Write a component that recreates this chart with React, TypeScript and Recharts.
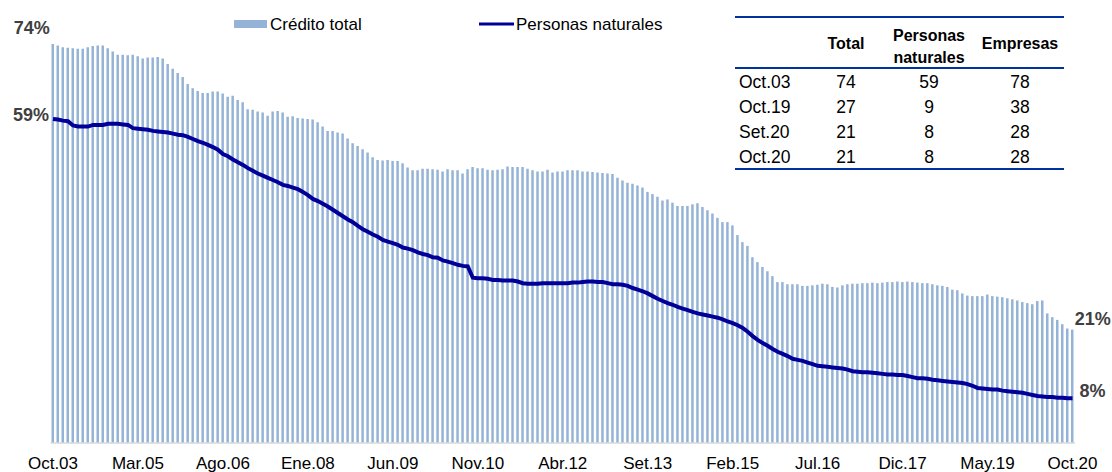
import { ComposedChart, Bar, Line, XAxis, YAxis, LabelList } from "recharts"

const FONT = '"Liberation Sans", Arial, Helvetica, sans-serif'

// crédito total (% del total), Oct.03 -> Oct.20, mensual
const creditoTotal = [
    73.9, 73.6, 73.3, 73.2, 73.1, 73.0, 73.0, 73.3, 73.5, 73.6, 73.6, 73.1,
    72.5, 71.9, 71.9, 71.8, 71.9, 71.6, 71.2, 71.4, 71.4, 71.5, 71.2, 70.2,
    69.3, 68.5, 67.8, 66.5, 65.7, 65.2, 64.8, 64.8, 65.1, 65.1, 64.7, 64.1,
    64.3, 63.5, 63.1, 61.8, 61.7, 61.4, 61.2, 60.6, 61.4, 61.5, 61.2, 60.4,
    60.5, 60.2, 60.1, 60.0, 59.9, 59.4, 58.6, 57.8, 57.8, 57.5, 57.3, 56.4,
    55.5, 55.0, 54.4, 53.8, 52.9, 52.4, 52.3, 52.4, 52.2, 52.2, 51.8, 51.0,
    50.5, 50.5, 50.8, 50.8, 50.7, 50.6, 50.3, 50.7, 50.5, 50.5, 49.9, 50.7,
    51.1, 50.9, 50.9, 50.6, 50.5, 50.6, 50.7, 51.2, 51.1, 51.1, 51.1, 50.8,
    50.5, 50.3, 50.3, 50.6, 50.1, 50.3, 50.3, 50.5, 50.5, 50.5, 50.3, 50.3,
    50.2, 50.1, 50.0, 49.9, 49.8, 49.1, 48.6, 48.2, 48.0, 47.7, 47.3, 46.5,
    46.1, 45.6, 44.9, 45.1, 44.5, 43.9, 43.9, 43.9, 44.2, 44.4, 43.7, 43.1,
    42.5, 41.7, 40.9, 40.9, 40.3, 38.5, 37.2, 36.5, 34.4, 33.5, 32.6, 31.8,
    30.9, 29.8, 29.8, 29.4, 29.4, 29.4, 29.1, 29.1, 29.2, 29.3, 29.5, 29.4,
    28.9, 28.8, 29.2, 29.4, 29.5, 29.5, 29.6, 29.6, 29.7, 29.6, 29.7, 29.8,
    29.8, 29.9, 29.8, 29.9, 29.8, 29.7, 29.6, 29.6, 29.4, 29.2, 29.1, 28.9,
    28.4, 28.3, 27.7, 27.3, 27.2, 27.2, 27.2, 27.5, 27.2, 27.1, 27.0, 26.8,
    26.6, 26.4, 26.1, 25.9, 25.7, 26.3, 26.4, 24.0, 23.3, 22.8, 22.0, 21.2,
    21.0,
]

const personasNaturales = [
    60.0, 59.9, 59.7, 59.6, 58.8, 58.6, 58.6, 58.6, 58.9, 58.9, 58.9, 59.1,
    59.1, 59.1, 59.0, 58.9, 58.3, 58.2, 58.1, 58.0, 57.8, 57.7, 57.6, 57.5,
    57.3, 57.1, 57.0, 56.7, 56.3, 55.9, 55.6, 55.2, 54.8, 54.3, 53.5, 53.1,
    52.5, 52.0, 51.5, 50.9, 50.4, 49.9, 49.5, 49.1, 48.7, 48.3, 47.8, 47.6,
    47.3, 47.0, 46.5, 45.9, 45.2, 44.8, 44.3, 43.8, 43.2, 42.6, 42.0, 41.4,
    40.9, 40.2, 39.6, 39.1, 38.6, 38.2, 37.6, 37.3, 37.0, 36.7, 36.2, 36.0,
    35.7, 35.3, 35.0, 34.8, 34.4, 34.3, 33.8, 33.6, 33.3, 33.0, 32.8, 32.7,
    30.6, 30.5, 30.5, 30.4, 30.2, 30.2, 30.1, 30.1, 30.1, 29.9, 29.6, 29.5,
    29.5, 29.5, 29.6, 29.6, 29.6, 29.6, 29.6, 29.6, 29.7, 29.7, 29.8, 29.9,
    29.9, 29.8, 29.8, 29.6, 29.4, 29.4, 29.3, 29.1, 28.7, 28.4, 28.1, 27.7,
    27.2, 26.7, 26.3, 25.9, 25.6, 25.2, 24.9, 24.6, 24.3, 24.0, 23.8, 23.6,
    23.4, 23.2, 22.9, 22.5, 22.2, 21.8, 21.3, 20.6, 19.8, 19.1, 18.5, 18.0,
    17.4, 16.9, 16.5, 16.1, 15.6, 15.4, 15.2, 14.9, 14.6, 14.3, 14.2, 14.1,
    14.0, 13.9, 13.8, 13.6, 13.3, 13.2, 13.1, 13.1, 13.0, 12.9, 12.8, 12.7,
    12.7, 12.6, 12.6, 12.4, 12.2, 12.0, 12.0, 11.9, 11.7, 11.6, 11.5, 11.4,
    11.3, 11.2, 11.1, 10.9, 10.6, 10.2, 10.1, 10.0, 9.9, 9.9, 9.7, 9.6,
    9.5, 9.4, 9.3, 9.1, 8.9, 8.7, 8.6, 8.5, 8.5, 8.4, 8.4, 8.3,
    8.3,
]

const mesesNombre = ["Ene", "Feb", "Mar", "Abr", "May", "Jun", "Jul", "Ago", "Set", "Oct", "Nov", "Dic"]

// mini tabla de la esquina
const tablaFilas = ["Oct.03", "Oct.19", "Set.20", "Oct.20"]
const tablaTotal = [74, 27, 21, 21]
const tablaPersonas = [59, 9, 8, 8]
const tablaEmpresas = [78, 38, 28, 28]

const data = creditoTotal.map((total, i) => {
    const m = (9 + i) % 12
    const yy = 3 + Math.floor((9 + i) / 12)
    return {
        mes: `${mesesNombre[m]}.${String(yy).padStart(2, "0")}`,
        total,
        personas: personasNaturales[i],
    }
})

const last = creditoTotal.length - 1

const endLabelStyle = { fontSize: 18, fontWeight: 700, fill: "#404040", fontFamily: FONT }

const BarEndLabel = (props: any) => {
    const { x, y, width, index } = props
    if (index === 0) {
        return <text x={x + width / 2 - 3} y={y - 10} textAnchor="end" style={endLabelStyle}>{`${tablaTotal[0]}%`}</text>
    }
    if (index === last) {
        return <text x={x + width / 2 + 2.5} y={y - 4.5} textAnchor="start" style={endLabelStyle}>{`${tablaTotal[3]}%`}</text>
    }
    return null
}

const LineEndLabel = (props: any) => {
    const { x, y, index } = props
    if (index === 0) {
        return <text x={x - 4} y={y + 2} textAnchor="end" style={endLabelStyle}>{`${tablaPersonas[0]}%`}</text>
    }
    if (index === last) {
        return <text x={x + 7} y={y - 1} textAnchor="start" style={endLabelStyle}>{`${tablaPersonas[3]}%`}</text>
    }
    return null
}

const Overlay = () => {
    const body = { fontSize: 17.5, fill: "#000", fontFamily: FONT }
    const head = { fontSize: 16, fontWeight: 700, fill: "#000", fontFamily: FONT }
    const cols = [846, 929, 1020]
    return (
        <svg width={1112} height={472} style={{ position: "absolute", left: 0, top: 0, pointerEvents: "none" }}>
            {/* leyenda */}
            <rect x={234} y={20} width={33} height={8} fill="#95B3D7" />
            <text x={270} y={30} style={{ fontSize: 17, fill: "#000", fontFamily: FONT }}>Crédito total</text>
            <line x1={479} x2={514} y1={24} y2={24} stroke="#000099" strokeWidth={3} />
            <text x={516} y={30} style={{ fontSize: 17, fill: "#000", fontFamily: FONT }}>Personas naturales</text>

            {/* tabla */}
            <line x1={735} x2={1064} y1={17} y2={17} stroke="#0033A0" strokeWidth={2} />
            <text x={cols[0]} y={49} textAnchor="middle" style={head}>Total</text>
            <text x={cols[1]} y={40.5} textAnchor="middle" style={head}>Personas</text>
            <text x={cols[1]} y={62.5} textAnchor="middle" style={head}>naturales</text>
            <text x={cols[2]} y={49} textAnchor="middle" style={head}>Empresas</text>
            <line x1={735} x2={1064} y1={68} y2={68} stroke="#0033A0" strokeWidth={2} />
            {tablaFilas.map((f, i) => {
                const yb = 88.3 + i * 25
                return (
                    <g key={f}>
                        <text x={739} y={yb} style={body}>{f}</text>
                        <text x={cols[0]} y={yb} textAnchor="middle" style={body}>{tablaTotal[i]}</text>
                        <text x={cols[1]} y={yb} textAnchor="middle" style={body}>{tablaPersonas[i]}</text>
                        <text x={cols[2]} y={yb} textAnchor="middle" style={body}>{tablaEmpresas[i]}</text>
                    </g>
                )
            })}
            <line x1={735} x2={1064} y1={169} y2={169} stroke="#0033A0" strokeWidth={2} />
        </svg>
    )
}

export default function App() {
    return (
        <div style={{ position: "relative", width: 1112, height: 472, background: "#fff", fontFamily: FONT }}>
            <style>{"body{margin:0}"}</style>
            <ComposedChart
                width={1112}
                height={472}
                data={data}
                margin={{ top: 11, right: 37, bottom: 5, left: 50.5 }}
            >
                <XAxis
                    dataKey="mes"
                    interval={16}
                    tickLine={false}
                    axisLine={{ stroke: "#D9D9D9", strokeWidth: 1.5 }}
                    tickSize={6}
                    tickMargin={8}
                    height={24}
                    tick={{ fontSize: 17, fill: "#000", fontFamily: FONT }}
                />
                <YAxis hide domain={[0, 80]} />
                <Bar dataKey="total" fill="#95B3D7" barSize={2.5} isAnimationActive={false}>
                    <LabelList dataKey="total" content={BarEndLabel} />
                </Bar>
                <Line
                    type="linear"
                    dataKey="personas"
                    stroke="#000099"
                    strokeWidth={4}
                    dot={false}
                    activeDot={false}
                    isAnimationActive={false}
                >
                    <LabelList dataKey="personas" content={LineEndLabel} />
                </Line>
            </ComposedChart>
            <Overlay />
        </div>
    )
}
